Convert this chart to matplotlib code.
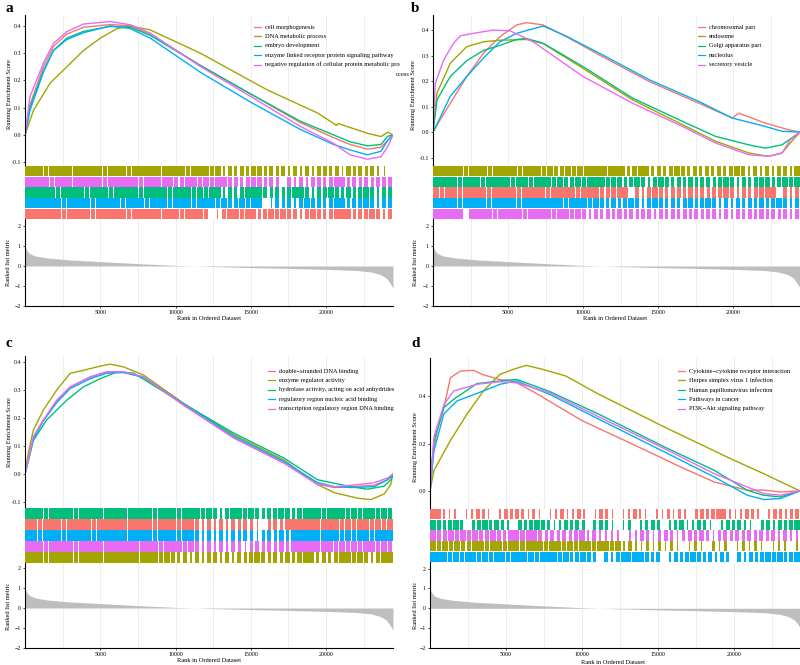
import matplotlib
matplotlib.use('Agg')
import matplotlib.pyplot as plt
from matplotlib.lines import Line2D
from matplotlib.transforms import Bbox, TransformedBbox

plt.rcParams['font.family'] = ['Liberation Serif', 'DejaVu Serif']

W, H = 800, 665
N_GENES = 24450

RED, OLIVE, GREEN, BLUE, MAGENTA = '#F8766D', '#A3A500', '#00BF7D', '#00B0F6', '#E76BF3'

# ── ranked list metric (same gene list in all four panels) ──────────────────
rank_x = [0, 100, 300, 700, 1500, 3000, 5000, 7500, 10000, 12500, 15000,
          17500, 20000, 22000, 23000, 23600, 24000, 24250, 24450]
rank_y = [1.0, 0.8, 0.62, 0.5, 0.4, 0.3, 0.22, 0.12, 0.03, -0.03, -0.08,
          -0.12, -0.17, -0.22, -0.3, -0.42, -0.6, -0.85, -1.1]

# ── panel a ────────────────────────────────────────────────────────────────
a_labels = ['cell morphogenesis', 'DNA metabolic process', 'embryo development',
            'enzyme linked receptor protein signaling pathway',
            'negative regulation of cellular protein metabolic process']
a_cell = [(0, 0), (330, 0.11), (1220, 0.25), (1890, 0.325), (2780, 0.37), (3890, 0.395),
          (5660, 0.405), (7000, 0.40), (8330, 0.37), (11650, 0.255), (15000, 0.15),
          (18300, 0.045), (20500, -0.01), (21600, -0.035), (22750, -0.052),
          (23650, -0.045), (24100, -0.02), (24450, 0)]
a_dna = [(0, 0), (560, 0.09), (1670, 0.19), (2780, 0.25), (3890, 0.31), (5000, 0.355),
         (6110, 0.39), (7000, 0.40), (8330, 0.385), (11650, 0.30), (16100, 0.165),
         (19450, 0.08), (20700, 0.035), (20800, 0.042), (22750, 0.006), (23650, -0.006),
         (24100, 0.01), (24450, 0)]
a_embryo = [(0, 0), (330, 0.10), (1220, 0.235), (1890, 0.31), (2780, 0.355), (3890, 0.38),
            (5660, 0.398), (7000, 0.395), (8330, 0.365), (11650, 0.255), (15000, 0.15),
            (18300, 0.05), (20500, 0.0), (21600, -0.025), (22750, -0.04), (23650, -0.035),
            (24100, -0.005), (24450, 0)]
a_enzyme = [(0, 0), (330, 0.09), (1220, 0.23), (1890, 0.31), (2780, 0.35), (3890, 0.375),
            (5660, 0.40), (7000, 0.39), (8330, 0.355), (11650, 0.23), (15000, 0.12),
            (18300, 0.02), (20500, -0.035), (21600, -0.055), (22750, -0.073),
            (23650, -0.06), (24100, -0.02), (24450, 0)]
a_negreg = [(0, 0), (330, 0.14), (1220, 0.263), (1890, 0.336), (2780, 0.379), (3890, 0.407),
            (5660, 0.416), (7000, 0.404), (8330, 0.373), (11650, 0.251), (15000, 0.141),
            (18300, 0.031), (20500, -0.031), (21600, -0.073), (22750, -0.089),
            (23650, -0.08), (24100, -0.043), (24450, 0)]
# hit barcode rows, top to bottom: '#' dense, '=' most, '-' half, '.' few, ' ' none
a_hits_olive = "###=####=####=###=####=####=###=#-=-=-==-=-=-=-=-==-=.=-=-=-. "
a_hits_magenta = "####=###=####=#####=##=##==##=#=##==-=#=-=- =-=-==-=#=-=-=-==="
a_hits_green = "#####=####=###=####=####=###=#=##-=-=#=#=-=-=##=-==#=-=-=#=-=="
a_hits_blue = "######=####=####=###=###=###=###=#==#=## .=-=-=#==-=#=-==#=-=="
a_hits_red = "######=####=#####=####=###=###= .=##=#=-=#=#==-=#=-=##=-==#=-="

# ── panel b ────────────────────────────────────────────────────────────────
b_labels = ['chromosomal part', 'endosome', 'Golgi apparatus part', 'nucleolus',
            'secretory vesicle']
b_chrom = [(0, 0), (500, 0.05), (1150, 0.113), (2250, 0.218), (3360, 0.309), (4460, 0.374),
           (5570, 0.42), (6230, 0.429), (7340, 0.42), (8880, 0.374), (11090, 0.302),
           (14410, 0.198), (17720, 0.113), (19930, 0.055), (20380, 0.074), (22140, 0.035),
           (23690, 0.009), (24450, 0)]
b_endo = [(0, 0), (265, 0.153), (1150, 0.27), (2250, 0.335), (3360, 0.354), (4460, 0.36),
          (6230, 0.363), (7340, 0.347), (9990, 0.25), (13300, 0.126), (16620, 0.029),
          (18830, -0.036), (21040, -0.082), (22370, -0.095), (23250, -0.082),
          (23800, -0.043), (24450, 0)]
b_golgi = [(0, 0), (265, 0.126), (1150, 0.218), (2250, 0.28), (3360, 0.32), (4460, 0.34),
           (5570, 0.363), (6230, 0.367), (7340, 0.348), (9990, 0.257), (13300, 0.133),
           (16620, 0.042), (18830, -0.017), (21040, -0.05), (22140, -0.063),
           (23250, -0.05), (24450, 0)]
b_nucleolus = [(0, 0), (500, 0.06), (1150, 0.14), (2250, 0.218), (3360, 0.29), (4460, 0.354),
               (5570, 0.387), (7340, 0.416), (8880, 0.376), (11090, 0.309), (14410, 0.205),
               (17720, 0.12), (19930, 0.055), (22140, 0.022), (23250, 0.003), (24450, 0)]
b_vesicle = [(0, 0), (155, 0.192), (710, 0.283), (1370, 0.348), (1810, 0.377), (2700, 0.387),
             (4020, 0.40), (5130, 0.397), (6670, 0.354), (9990, 0.218), (13300, 0.113),
             (16620, 0.022), (18830, -0.043), (21040, -0.089), (22370, -0.095),
             (23250, -0.082), (23800, -0.03), (24450, 0)]
b_hits_olive = "#####=###=####=###=#==#=#=###=#=-=#=-=-=#=-=-=-=-=#=-=-=-==-#"
b_hits_green = "####=###=####=##=###=#==#=###=#=-=#=-=#=-=-=-==-=#=-=-=#=-=#=#"
b_hits_red = "#=##=####=####=####=####=###==#=# =-=#=-==-=-=-==#=-=-=#=# =-="
b_hits_blue = "####=####=####=###=###=###=#=-=-=#=-=#=-=-==-=#=-=-=-=-=-=#=-="
b_hits_magenta = "##### ####=####=####=##=#=-=-=-=-=-==-=-=-=-=-==-=-=-=-=-=-=-="

# ── panel c ────────────────────────────────────────────────────────────────
c_labels = ['double\u2212stranded DNA binding', 'enzyme regulator activity',
            'hydrolase activity, acting on acid anhydrides',
            'regulatory region nucleic acid binding',
            'transcription regulatory region DNA binding']
c_dsdna = [(0, 0), (555, 0.13), (1220, 0.19), (2110, 0.26), (3000, 0.31), (4330, 0.345),
           (5440, 0.362), (6550, 0.363), (7880, 0.345), (10545, 0.245), (13875, 0.13),
           (17200, 0.04), (19425, -0.035), (20535, -0.048), (21645, -0.045),
           (23200, -0.04), (24090, -0.02), (24450, 0)]
c_enzreg = [(0, 0), (220, 0.075), (555, 0.157), (1220, 0.228), (2110, 0.30), (3000, 0.359),
            (3885, 0.37), (5000, 0.385), (5660, 0.392), (6550, 0.382), (7880, 0.353),
            (10545, 0.252), (13875, 0.14), (17200, 0.05), (19425, -0.037), (20535, -0.066),
            (22090, -0.086), (22980, -0.091), (23865, -0.071), (24300, -0.037), (24450, 0)]
c_hydro = [(0, 0), (555, 0.12), (1440, 0.193), (2780, 0.264), (3885, 0.311), (4995, 0.34),
           (6105, 0.364), (7215, 0.36), (10545, 0.25), (13875, 0.146), (17200, 0.057),
           (19425, -0.02), (21645, -0.045), (22755, -0.054), (23865, -0.043),
           (24300, -0.02), (24450, 0)]
c_regreg = [(0, 0), (555, 0.125), (1220, 0.19), (2110, 0.255), (3000, 0.305), (4330, 0.34),
            (5440, 0.36), (6550, 0.362), (7880, 0.345), (10545, 0.25), (13875, 0.135),
            (17200, 0.045), (19425, -0.03), (20535, -0.045), (21645, -0.048),
            (23200, -0.045), (24090, -0.02), (24450, 0)]
c_transc = [(0, 0), (555, 0.134), (1220, 0.193), (2110, 0.264), (3000, 0.311), (4330, 0.347),
            (5440, 0.365), (6550, 0.365), (7880, 0.347), (10545, 0.246), (13875, 0.128),
            (17200, 0.039), (19425, -0.037), (20535, -0.045), (21645, -0.04),
            (23200, -0.031), (24090, -0.014), (24450, 0)]
c_hits_green = "###=####=####=##=####=###=###=#=-=##=#=-==#=-=###=###=#=##=#="
c_hits_red = "##=###=####=####=####=###=##=-=-=-=-=-. -=-=####=###=#=##=#=#"
c_hits_blue = "##=###=####=####=####=###=##=-=-=-=-=-.-=-=-=###=###=#=##=###"
c_hits_magenta = "###=####=####=####=###=###=#=-=-=-=-.-=-=-=-=###=##=#=#=##=#="
c_hits_olive = "###=####=####=####=###=#=-=-=-==-=-=-=#=-=-=-=#=-=-=##=#=-=##"

# ── panel d ────────────────────────────────────────────────────────────────
d_labels = ['Cytokine\u2212cytokine receptor interaction', 'Herpes simplex virus 1 infection',
            'Human papillomavirus infection', 'Pathways in cancer',
            'PI3K\u2212Akt signaling pathway']
d_cytokine = [(0, 0), (90, 0.115), (480, 0.255), (910, 0.352), (1345, 0.478), (2000, 0.506),
              (2860, 0.509), (3515, 0.49), (4600, 0.47), (5470, 0.464), (6770, 0.42),
              (10030, 0.296), (13280, 0.199), (16540, 0.10), (18710, 0.038),
              (20880, 0.003), (21960, 0.004), (23050, -0.004), (24350, 0)]
d_herpes = [(0, 0), (260, 0.087), (1345, 0.213), (2430, 0.324), (3515, 0.422), (4600, 0.492),
            (5470, 0.513), (6335, 0.53), (7420, 0.513), (8940, 0.485), (11110, 0.408),
            (15450, 0.269), (19790, 0.136), (21960, 0.073), (24350, 0)]
d_hpv = [(0, 0), (260, 0.21), (910, 0.352), (1560, 0.387), (3080, 0.453), (4600, 0.464),
         (5690, 0.471), (7860, 0.42), (11110, 0.324), (15450, 0.185), (18710, 0.087),
         (20880, 0.003), (21960, -0.018), (23050, -0.025), (24350, 0)]
d_cancer = [(0, 0), (260, 0.17), (910, 0.325), (1780, 0.38), (3515, 0.422), (4600, 0.45),
            (5690, 0.464), (7860, 0.408), (11110, 0.303), (15450, 0.164), (18710, 0.059),
            (20880, -0.018), (21960, -0.036), (23050, -0.032), (24350, 0)]
d_pi3k = [(0, 0), (260, 0.227), (910, 0.364), (1560, 0.422), (3080, 0.45), (4600, 0.461),
          (5690, 0.457), (7860, 0.415), (11110, 0.313), (15450, 0.178), (18710, 0.073),
          (20880, 0.017), (21960, -0.011), (23050, -0.018), (24350, 0)]
d_hits_red = "##-.- .-=-. -=-=-.-. .-=.-=- .=-. .-=-. -.-.=- -=-=#=-.-=-. -=-.-="
d_hits_green = "#=-=#- -=#-=-. =-=#=-.-=-=- -=-. .- .-=- .-=.-=-. -=-=-. -=-=-=#"
d_hits_magenta = "#==#=#=#==#=-#=#=#=-=-=-=#-=-.-. .-=-.-=-.-=-=-.-=-=-=-=-=-=--"
d_hits_olive = "#=#=#==##=##=#=#=##=##=#=##=##=#-=-.-.-.-. .-. -.- .-.-. .-. ."
d_hits_blue = "###=#=##=#=##=##=#=#=#=#-=#=- =-=#=##=-= .=-=#=-=-=- =-=-=#=#-=#"

DENSITY = {'#': 1.0, '=': 0.7, '-': 0.45, '.': 0.2, ' ': 0.0}

fig = plt.figure(figsize=(W / 100, H / 100), dpi=100)


def px_axes(x0, y0, x1, y1):
    return fig.add_axes([x0 / W, 1 - y1 / H, (x1 - x0) / W, (y1 - y0) / H])


def fx(x):
    return x / W


def fy(y):
    return 1 - y / H


def vgrid(ax, xmax):
    for g in range(2500, int(xmax), 2500):
        ax.axvline(g, color='#EBEBEB', lw=0.6, zorder=0)


def draw_panel(letter, letter_xy, x0, x1, y_es, y_bar, y_rank, y_bottom, xmax, es_lim,
               es_ticks, rank_lim, curves, labels, hit_rows, leg_xy, text_pos,
               clip_right=None):
    # running enrichment score
    ax = px_axes(x0, y_es, x1, y_bar)
    vgrid(ax, xmax)
    for pts, col in curves:
        ax.plot([p[0] for p in pts], [p[1] for p in pts], color=col, lw=1.0)
    ax.set_xlim(0, xmax)
    ax.set_ylim(*es_lim)
    ax.set_yticks(es_ticks)
    ax.set_yticklabels([f'{t:.1f}' for t in es_ticks])
    ax.set_xticks([])
    for s in ['top', 'right', 'bottom']:
        ax.spines[s].set_visible(False)
    ax.spines['left'].set_linewidth(0.8)
    ax.tick_params(axis='y', labelsize=4.2, length=1.5, width=0.5, pad=1.5)

    # hit barcode
    axb = px_axes(x0, y_bar, x1, y_rank)
    nrow = len(hit_rows)
    for i, (col, s) in enumerate(hit_rows):
        bw = xmax / len(s)
        cx, wd = [], []
        for j, ch in enumerate(s):
            f = DENSITY[ch]
            if f > 0:
                cx.append((j + 0.5) * bw)
                wd.append(f * bw)
        axb.bar(cx, 0.96, width=wd, bottom=nrow - 1 - i + 0.02, color=col, lw=0)
    axb.set_xlim(0, xmax)
    axb.set_ylim(0, nrow)
    axb.axis('off')

    # ranked list metric
    axr = px_axes(x0, y_rank, x1, y_bottom)
    vgrid(axr, xmax)
    axr.fill_between(rank_x, rank_y, 0, color='#BEBEBE', lw=0)
    axr.set_xlim(0, xmax)
    axr.set_ylim(*rank_lim)
    axr.set_yticks([-2, -1, 0, 1, 2])
    axr.set_yticklabels(['\u22122', '\u22121', '0', '1', '2'])
    axr.set_xticks([5000, 10000, 15000, 20000])
    for s in ['top', 'right']:
        axr.spines[s].set_visible(False)
    for s in ['left', 'bottom']:
        axr.spines[s].set_linewidth(0.8)
    axr.tick_params(labelsize=4.2, length=1.5, width=0.5, pad=1.5)

    # titles and panel letter
    (es_lab, rank_lab, xlab) = text_pos
    fig.text(fx(es_lab[0]), fy(es_lab[1]), 'Running Enrichment Score', rotation=90,
             fontsize=4.6, ha='center', va='center')
    fig.text(fx(rank_lab[0]), fy(rank_lab[1]), 'Ranked list metric', rotation=90,
             fontsize=4.6, ha='center', va='center')
    fig.text(fx(xlab[0]), fy(xlab[1]), 'Rank in Ordered Dataset', fontsize=4.6,
             ha='center', va='center')
    fig.text(fx(letter_xy[0]), fy(letter_xy[1]), letter, fontsize=11, fontweight='bold',
             ha='left', va='center')

    # legend
    lx, ly = leg_xy
    clip = None
    if clip_right is not None:
        clip = TransformedBbox(Bbox([[0, 0], [clip_right / W, 1]]), fig.transFigure)
    for k, ((_, col), lab) in enumerate(zip(curves, labels)):
        yy = fy(ly + k * 9.4)
        fig.add_artist(Line2D([fx(lx), fx(lx + 7)], [yy, yy], color=col, lw=0.9))
        t = fig.text(fx(lx + 11), yy, lab, fontsize=4.6, ha='left', va='center')
        if clip is not None:
            t.set_clip_box(clip)
            t.set_clip_on(True)


draw_panel('a', (5, 8), 25, 393, 15, 166, 219, 306, N_GENES, (-0.114, 0.44),
           [-0.1, 0.0, 0.1, 0.2, 0.3, 0.4], (-2, 2.35),
           [(a_cell, RED), (a_dna, OLIVE), (a_embryo, GREEN), (a_enzyme, BLUE),
            (a_negreg, MAGENTA)], a_labels,
           [(OLIVE, a_hits_olive), (MAGENTA, a_hits_magenta), (GREEN, a_hits_green),
            (BLUE, a_hits_blue), (RED, a_hits_red)],
           (254, 27), ((10, 94), (9, 262), (209, 318)), clip_right=400)

draw_panel('b', (411, 8), 433, 800, 15, 166, 219, 306, N_GENES, (-0.133, 0.459),
           [-0.1, 0.0, 0.1, 0.2, 0.3, 0.4], (-2, 2.35),
           [(b_chrom, RED), (b_endo, OLIVE), (b_golgi, GREEN), (b_nucleolus, BLUE),
            (b_vesicle, MAGENTA)], b_labels,
           [(OLIVE, b_hits_olive), (GREEN, b_hits_green), (RED, b_hits_red),
            (BLUE, b_hits_blue), (MAGENTA, b_hits_magenta)],
           (698, 27), ((413, 95), (415, 262), (615, 318)))

draw_panel('c', (5, 343), 25, 393, 356, 508, 563, 648, N_GENES, (-0.121, 0.421),
           [-0.1, 0.0, 0.1, 0.2, 0.3, 0.4], (-2, 2.25),
           [(c_dsdna, RED), (c_enzreg, OLIVE), (c_hydro, GREEN), (c_regreg, BLUE),
            (c_transc, MAGENTA)], c_labels,
           [(GREEN, c_hits_green), (RED, c_hits_red), (BLUE, c_hits_blue),
            (MAGENTA, c_hits_magenta), (OLIVE, c_hits_olive)],
           (268, 371), ((10, 432), (9, 606), (209, 661)))

draw_panel('d', (411, 343), 430, 800, 358, 509, 562, 648, 24350, (-0.076, 0.561),
           [0.0, 0.2, 0.4], (-2, 2.33),
           [(d_cytokine, RED), (d_herpes, OLIVE), (d_hpv, GREEN), (d_cancer, BLUE),
            (d_pi3k, MAGENTA)], d_labels,
           [(RED, d_hits_red), (GREEN, d_hits_green), (MAGENTA, d_hits_magenta),
            (OLIVE, d_hits_olive), (BLUE, d_hits_blue)],
           (678, 371), ((415, 447), (415, 605), (613, 662)))

# overflow of panel a's last legend entry, as in the source figure
fig.text(fx(396), fy(74), 'ocess', fontsize=4.6, ha='left', va='center')

fig.savefig('out.png', dpi=100)
